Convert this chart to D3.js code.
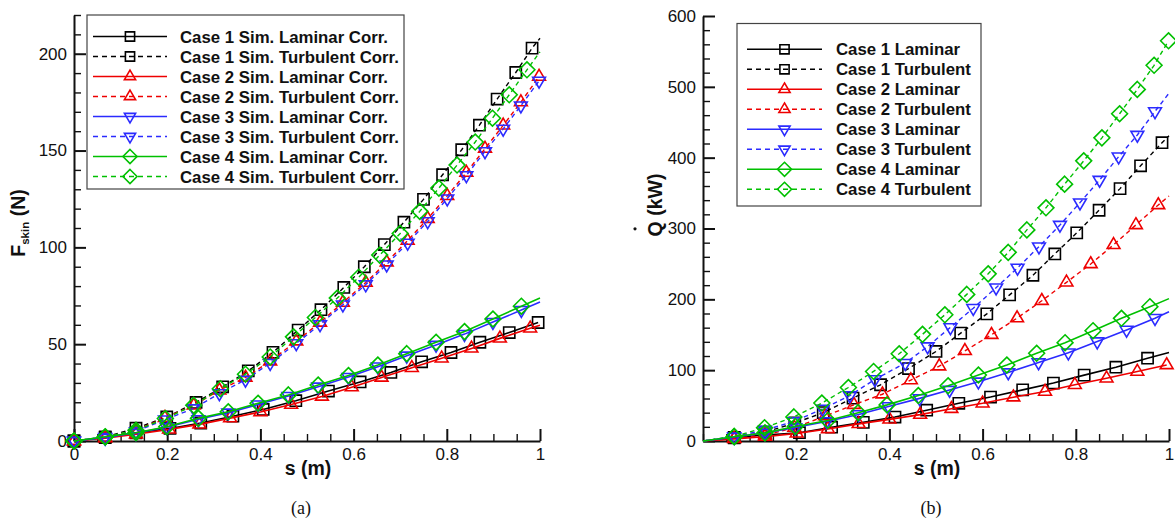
<!DOCTYPE html>
<html lang="en">
<head>
<meta charset="UTF-8">
<title>Skin friction force and heat transfer rate along s</title>
<script src="https://d3js.org/d3.v7.min.js"></script>
<style>
  body { margin: 0; background: #fff; }
  svg { display: block; font-family: "Liberation Sans", Arial, sans-serif; }
  .axis .domain { stroke: #111; stroke-width: 2px; }
  .axis .tick line { stroke: #111; stroke-width: 2px; }
  .minor .tick line { stroke: #111; stroke-width: 1.4px; }
  .axis .tick text { font-size: 17px; fill: #111; font-family: "Liberation Sans", Arial, sans-serif; }
  .title { font-size: 19.5px; font-weight: bold; fill: #111; }
  .caption { font-family: "Liberation Serif", "DejaVu Serif", serif; font-size: 18px; fill: #111; }
  .legend text { font-size: 16.8px; font-weight: bold; fill: #111; }
</style>
</head>
<body>
<svg id="fig" width="1175" height="523"></svg>
<script>
// ---- data: [s (m), value] at the marker positions ----
// (a) skin friction force, N
const fskinC1Lam = [[0,0],[0.067,1.8],[0.133,4.2],[0.206,6.5],[0.272,9.3],[0.341,12.8],[0.406,16.3],[0.476,20.8],[0.546,25.8],[0.614,30.5],[0.680,35.4],[0.746,40.9],[0.809,45.7],[0.871,51.0],[0.934,56.0],[0.996,61.2]];
const fskinC1Turb = [[0,0],[0.067,2.1],[0.133,6.6],[0.199,12.4],[0.262,19.9],[0.319,28.0],[0.374,36.2],[0.427,45.8],[0.481,57.3],[0.530,67.8],[0.579,79.3],[0.623,90.0],[0.666,101.4],[0.708,113.0],[0.750,124.8],[0.791,137.5],[0.832,150.4],[0.870,163.1],[0.908,176.6],[0.948,190.3],[0.983,202.9]];
const fskinC2Lam = [[0,0],[0.067,1.5],[0.133,3.5],[0.204,6.0],[0.269,8.6],[0.335,11.8],[0.400,15.0],[0.466,18.8],[0.532,23.0],[0.596,27.8],[0.660,32.8],[0.725,37.8],[0.789,42.7],[0.853,47.8],[0.914,53.0],[0.979,58.2]];
const fskinC2Turb = [[0,0],[0.067,1.7],[0.133,5.5],[0.195,12.0],[0.257,18.4],[0.312,26.2],[0.368,32.8],[0.421,41.2],[0.477,51.5],[0.528,61.2],[0.577,71.5],[0.626,81.8],[0.671,92.3],[0.716,103.5],[0.759,114.8],[0.801,126.6],[0.842,138.6],[0.882,151.0],[0.921,163.0],[0.959,175.0],[0.998,188.2]];
const fskinC3Lam = [[0,0],[0.067,2.0],[0.133,4.1],[0.199,7.1],[0.267,11.2],[0.331,14.6],[0.395,18.8],[0.460,23.2],[0.524,28.0],[0.589,33.0],[0.652,38.4],[0.714,44.0],[0.777,49.6],[0.838,55.2],[0.899,61.4],[0.960,67.6]];
const fskinC3Turb = [[0,0],[0.067,1.5],[0.133,5.0],[0.195,11.0],[0.257,16.8],[0.312,24.6],[0.368,31.6],[0.421,40.2],[0.477,50.4],[0.528,60.2],[0.577,70.4],[0.626,80.8],[0.671,91.1],[0.716,102.3],[0.759,113.4],[0.801,125.2],[0.842,137.2],[0.882,149.6],[0.921,161.2],[0.959,173.2],[0.998,186.0]];
const fskinC4Lam = [[0,0],[0.067,2.2],[0.133,4.3],[0.199,7.4],[0.267,11.7],[0.331,15.1],[0.395,19.5],[0.460,23.8],[0.524,28.9],[0.589,33.8],[0.652,39.2],[0.714,45.1],[0.777,51.0],[0.838,56.5],[0.899,63.0],[0.960,69.6]];
const fskinC4Turb = [[0,0],[0.067,2.1],[0.133,5.5],[0.196,11.6],[0.257,18.4],[0.314,27.0],[0.368,34.5],[0.421,43.4],[0.471,53.8],[0.518,63.8],[0.565,73.8],[0.611,84.6],[0.656,96.0],[0.700,107.2],[0.742,118.6],[0.783,130.6],[0.822,142.5],[0.861,154.4],[0.898,166.7],[0.934,178.8],[0.972,191.7]];
// value where each line meets s = 1 (null: line stops at its last marker)
const fskinEnd = [null, 208, 59.8, null, 71.8, null, 73.8, 201];

// (b) heat transfer rate, kW
const qdotC1Lam = [[0,0],[0.067,4.5],[0.133,8.5],[0.207,11.7],[0.276,19.5],[0.344,26.3],[0.412,33.8],[0.480,43.5],[0.549,53.2],[0.617,62.0],[0.686,72.2],[0.752,81.8],[0.818,93.0],[0.886,104.2],[0.954,116.9]];
const qdotC1Turb = [[0,0],[0.067,5.2],[0.133,12.4],[0.197,25.4],[0.258,40.0],[0.322,60.6],[0.381,79.4],[0.441,102.3],[0.500,126.4],[0.553,152.3],[0.609,179.5],[0.658,206.3],[0.708,234.0],[0.755,264.1],[0.802,293.8],[0.850,325.8],[0.895,356.3],[0.939,388.5],[0.985,421.1]];
const qdotC2Lam = [[0,0],[0.067,3.0],[0.133,6.1],[0.201,10.8],[0.268,17.0],[0.334,24.2],[0.400,30.5],[0.466,37.2],[0.533,45.5],[0.600,53.2],[0.666,61.8],[0.734,69.8],[0.798,79.3],[0.866,88.5],[0.932,98.0],[0.995,107.3]];
const qdotC2Turb = [[0,0],[0.067,3.3],[0.133,8.2],[0.196,18.8],[0.262,35.2],[0.324,51.2],[0.385,66.0],[0.446,86.0],[0.507,105.6],[0.562,127.2],[0.619,150.0],[0.674,173.5],[0.727,198.0],[0.780,224.0],[0.832,249.9],[0.881,276.9],[0.929,305.0],[0.977,333.2]];
const qdotC3Lam = [[0,0],[0.067,5.5],[0.133,11.5],[0.198,19.0],[0.265,27.5],[0.334,37.5],[0.398,48.8],[0.465,60.2],[0.529,72.0],[0.591,83.7],[0.655,96.7],[0.720,110.8],[0.784,124.7],[0.846,140.4],[0.909,156.8],[0.970,173.4]];
const qdotC3Turb = [[0,0],[0.067,6.1],[0.133,15.5],[0.195,27.5],[0.257,45.3],[0.315,64.2],[0.369,87.0],[0.434,110.0],[0.482,133.4],[0.531,160.5],[0.580,187.5],[0.629,216.5],[0.675,244.4],[0.721,274.4],[0.766,305.0],[0.809,336.5],[0.851,368.5],[0.892,401.4],[0.932,432.0],[0.970,465.3]];
const qdotC4Lam = [[0,0],[0.067,6.1],[0.133,11.5],[0.198,20.5],[0.268,29.0],[0.333,40.0],[0.395,51.0],[0.462,64.2],[0.526,78.0],[0.591,93.2],[0.652,107.3],[0.716,123.8],[0.777,138.8],[0.837,155.7],[0.898,173.2],[0.959,189.6]];
const qdotC4Turb = [[0,0],[0.067,6.5],[0.132,18.8],[0.195,34.0],[0.255,53.6],[0.312,75.5],[0.366,98.2],[0.421,123.2],[0.471,150.6],[0.519,178.2],[0.566,207.0],[0.612,236.0],[0.655,266.3],[0.695,298.0],[0.736,329.2],[0.776,362.6],[0.817,395.5],[0.856,428.0],[0.894,462.0],[0.932,496.4],[0.968,530.4],[0.999,565.0]];
const qdotEnd = [125, 431, null, 346, 182.5, 491, 201, null];

const fskinLabels = ["Case 1 Sim. Laminar Corr.", "Case 1 Sim. Turbulent Corr.", "Case 2 Sim. Laminar Corr.", "Case 2 Sim. Turbulent Corr.",
                     "Case 3 Sim. Laminar Corr.", "Case 3 Sim. Turbulent Corr.", "Case 4 Sim. Laminar Corr.", "Case 4 Sim. Turbulent Corr."];
const qdotLabels = ["Case 1 Laminar", "Case 1 Turbulent", "Case 2 Laminar", "Case 2 Turbulent",
                    "Case 3 Laminar", "Case 3 Turbulent", "Case 4 Laminar", "Case 4 Turbulent"];

const sTicks = [0, 0.2, 0.4, 0.6, 0.8, 1];
const qdotSTicks = [0.2, 0.4, 0.6, 0.8, 1];
const fskinTicks = [0, 50, 100, 150, 200];
const qdotTicks = [0, 100, 200, 300, 400, 500, 600];

// one colour / marker per case, solid = laminar, dashed = turbulent
const caseColors = ["#000000", "#ee0000", "#2b2bff", "#00c000"];
const caseShapes = ["square", "up", "down", "diamond"];

const svg = d3.select("#fig");

function markerPath(shape, r) {
    const h = r * 1.7;
    if (shape === "square") return `M${-r},${-r}H${r}V${r}H${-r}Z`;
    if (shape === "up") return `M0,${-h * 2 / 3}L${r},${h / 3}L${-r},${h / 3}Z`;
    if (shape === "down") return `M0,${h * 2 / 3}L${r},${-h / 3}L${-r},${-h / 3}Z`;
    return `M0,${-r * 1.1}L${r * 1.1},0L0,${r * 1.1}L${-r * 1.1},0Z`;
}
const plotSize = { square: 5.6, up: 6.4, down: 6.4, diamond: 7.2 };
const legendSize = { square: 4.6, up: 5.6, down: 5.6, diamond: 6.4 };

function drawPanel(p) {
    const x = d3.scaleLinear().domain([0, 1]).range(p.xRange);
    const y = d3.scaleLinear().domain(p.yDomain).range(p.yRange);
    const fmt = d => d === 0 ? "0" : d === 1 ? "1" : d3.format(".1f")(d);

    // minor ticks
    const xMinor = d3.range(0, 1.0001, 0.05).filter(v => !p.xTicks.includes(+v.toFixed(2)));
    svg.append("g").attr("class", "axis minor")
        .attr("transform", `translate(0,${y(0)})`)
        .call(d3.axisBottom(x).tickValues(xMinor).tickSize(-7).tickFormat(""))
        .call(g => g.select(".domain").remove());
    const yMinor = d3.range(0, p.yDomain[1] + 0.001, p.yMinorStep).filter(v => v % p.yMajorStep !== 0);
    svg.append("g").attr("class", "axis minor")
        .attr("transform", `translate(${x(0)},0)`)
        .call(d3.axisLeft(y).tickValues(yMinor).tickSize(-7).tickFormat(""))
        .call(g => g.select(".domain").remove());

    // major axes
    svg.append("g").attr("class", "axis")
        .attr("transform", `translate(0,${y(0)})`)
        .call(d3.axisBottom(x).tickValues(p.xTicks).tickSize(-12).tickSizeOuter(0).tickPadding(7).tickFormat(fmt))
        .attr("font-family", null).attr("font-size", null);
    svg.append("g").attr("class", "axis")
        .attr("transform", `translate(${x(0)},0)`)
        .call(d3.axisLeft(y).tickValues(p.yTicks).tickSize(-12).tickSizeOuter(0).tickPadding(7))
        .attr("font-family", null).attr("font-size", null);

    const line = d3.line().x(d => x(d[0])).y(d => y(d[1]));

    p.series.forEach((ser, i) => {
        const c = Math.floor(i / 2);
        const dashed = i % 2 === 1;
        const pts = p.ends[i] === null ? ser : ser.concat([[1, p.ends[i]]]);
        svg.append("path")
            .datum(pts)
            .attr("d", line)
            .attr("fill", "none")
            .attr("stroke", caseColors[c])
            .attr("stroke-width", dashed ? 1.4 : 1.6)
            .attr("stroke-dasharray", dashed ? "4.5,3.5" : null);
        svg.append("g").selectAll("path")
            .data(ser.filter(d => p.markOrigin || d[0] > 0))
            .join("path")
            .attr("transform", d => `translate(${x(d[0])},${y(d[1])})`)
            .attr("d", markerPath(caseShapes[c], plotSize[caseShapes[c]]))
            .attr("fill", "none")
            .attr("stroke", caseColors[c])
            .attr("stroke-width", 1.6);
    });

    // legend
    const lg = svg.append("g").attr("class", "legend");
    lg.append("rect")
        .attr("x", p.legend.x).attr("y", p.legend.y)
        .attr("width", p.legend.w).attr("height", p.legend.h)
        .attr("fill", "#fff").attr("stroke", "#444").attr("stroke-width", 1.2);
    p.labels.forEach((lab, i) => {
        const c = Math.floor(i / 2);
        const dashed = i % 2 === 1;
        const ry = p.legend.row0 + i * 20;
        lg.append("line")
            .attr("x1", p.legend.lineX[0]).attr("x2", p.legend.lineX[1])
            .attr("y1", ry).attr("y2", ry)
            .attr("stroke", caseColors[c]).attr("stroke-width", 1.6)
            .attr("stroke-dasharray", dashed ? "5,4" : null);
        lg.append("path")
            .attr("transform", `translate(${(p.legend.lineX[0] + p.legend.lineX[1]) / 2},${ry})`)
            .attr("d", markerPath(caseShapes[c], legendSize[caseShapes[c]]))
            .attr("fill", "none").attr("stroke", caseColors[c]).attr("stroke-width", 1.6);
        lg.append("text")
            .attr("x", p.legend.textX).attr("y", ry).attr("dy", "0.36em")
            .text(lab);
    });

    // titles
    svg.append("text").attr("class", "title")
        .attr("x", p.sTitleX).attr("y", 475).attr("text-anchor", "middle")
        .text("s (m)");
    svg.append("text").attr("class", "caption")
        .attr("x", p.captionX).attr("y", 514).attr("text-anchor", "middle")
        .text(p.caption);
}

drawPanel({
    xRange: [74, 540], yDomain: [0, 220], yRange: [441, 15],
    xTicks: sTicks, yTicks: fskinTicks, yMinorStep: 10, yMajorStep: 50,
    series: [fskinC1Lam, fskinC1Turb, fskinC2Lam, fskinC2Turb, fskinC3Lam, fskinC3Turb, fskinC4Lam, fskinC4Turb],
    ends: fskinEnd, markOrigin: true, labels: fskinLabels,
    legend: { x: 87, y: 15, w: 317, h: 174, row0: 36.5, lineX: [93, 167], textX: 180 },
    sTitleX: 308, captionX: 301, caption: "(a)"
});

drawPanel({
    xRange: [703, 1169], yDomain: [0, 600], yRange: [441, 16],
    xTicks: qdotSTicks, yTicks: qdotTicks, yMinorStep: 20, yMajorStep: 100,
    series: [qdotC1Lam, qdotC1Turb, qdotC2Lam, qdotC2Turb, qdotC3Lam, qdotC3Turb, qdotC4Lam, qdotC4Turb],
    ends: qdotEnd, markOrigin: false, labels: qdotLabels,
    legend: { x: 737, y: 23.5, w: 244, h: 182.5, row0: 49.3, lineX: [747, 822], textX: 836 },
    sTitleX: 937, captionX: 931, caption: "(b)"
});

// y axis titles
const fLab = svg.append("text").attr("class", "title")
    .attr("transform", "translate(25,223) rotate(-90)")
    .attr("text-anchor", "middle");
fLab.append("tspan").text("F");
fLab.append("tspan").attr("font-size", "11.5px").attr("dy", 4).text("skin");
fLab.append("tspan").attr("dy", -4).text(" (N)");

const qG = svg.append("g").attr("transform", "translate(662,205) rotate(-90)");
const qLab = qG.append("text").attr("class", "title").attr("text-anchor", "middle").text("Q (kW)");
const qBox = qLab.node().getExtentOfChar(0);
qG.append("circle")
    .attr("cx", qBox.x + qBox.width / 2).attr("cy", -27)
    .attr("r", 1.6).attr("fill", "#111");
</script>
</body>
</html>
